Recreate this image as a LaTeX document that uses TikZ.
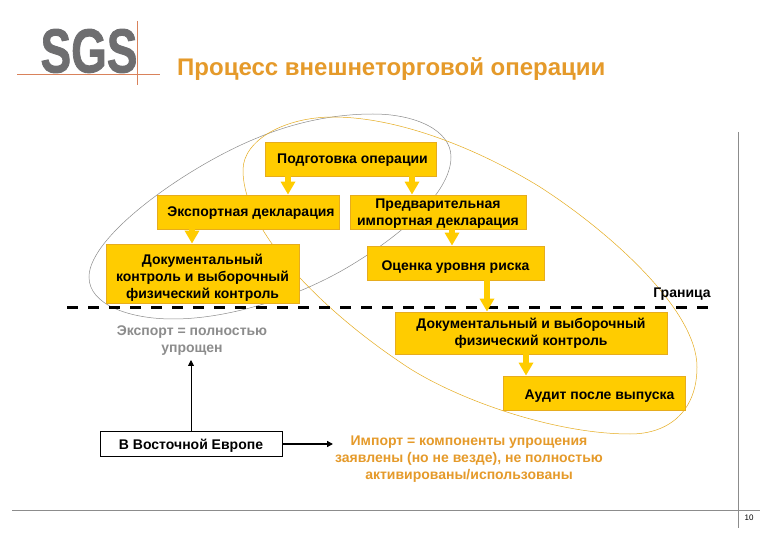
\documentclass[tikz,border=0pt]{standalone}
\usepackage{fontspec}
\setmainfont{Liberation Sans}
\newfontfamily\logofont{Liberation Sans}[UprightFont=* Bold,FakeBold=1.5]
\usetikzlibrary{arrows.meta}
\definecolor{boxgold}{HTML}{FFCC00}
\definecolor{boxedge}{HTML}{E6AC1E}
\definecolor{titlegold}{HTML}{E59A2A}
\definecolor{rulegrey}{HTML}{8C8C8C}
\definecolor{logogrey}{HTML}{6E6E70}
\definecolor{logoline}{HTML}{D9825B}
\newcommand{\FB}{\fontsize{14}{17}\selectfont\bfseries}
\newcommand{\FT}{\fontsize{24}{28}\selectfont\bfseries}

\begin{document}
\begin{tikzpicture}[x=1pt,y=-1pt]
\tikzstyle{goldbox}=[draw=boxedge,fill=boxgold,line width=0.8pt,inner sep=0pt,align=center,font=\FB]
\tikzstyle{plainbox}=[draw=black,fill=white,line width=0.9pt,inner sep=0pt,align=center,font=\FB]
\tikzstyle{texto}=[draw=none,fill=none,align=center,font=\FB]
\tikzstyle{oneline}=[text depth=0pt]
\tikzstyle{blockarrow}=[boxgold,line width=6pt,-{Triangle[width=14pt,length=13pt]}]
\tikzstyle{thinarrow}=[black,-{Triangle[width=6pt,length=6pt]}]
\tikzstyle{loop}=[line width=0.5pt]

\useasboundingbox (0,0) rectangle (780,540);
\fill[white] (0,0) rectangle (780,540);

\node[font=\logofont\fontsize{62}{62}\selectfont,text=logogrey,xscale=0.74,inner sep=0pt] (logo) at (89,51) {SGS};
\draw[logoline,line width=0.9pt] (17,74) -- (160,74);
\draw[logoline,line width=0.9pt] (137,21) -- (137,85);
\node[anchor=west,text=titlegold,font=\FT,inner sep=0pt] (title) at (177,69.5) {Процесс внешнеторговой операции};

\draw[rulegrey,line width=1pt] (738,132) -- (738,528);
\draw[rulegrey,line width=1pt] (12,510) -- (760,510);
\node[font=\fontsize{8}{10}\selectfont,inner sep=0pt] (page) at (749,518) {10};

\draw[loop,rulegrey] (373,114) .. controls (415,114) and (451,130) .. (451,157)
  .. controls (451,195) and (395,240) .. (343,270)
  .. controls (290,300) and (225,319) .. (173,319)
  .. controls (130,319) and (89,305) .. (89,277)
  .. controls (89,235) and (190,165) .. (257,138)
  .. controls (295,122) and (335,114) .. cycle;
\draw[loop,boxedge] (243,170) .. controls (243,140) and (285,117) .. (333,117)
  .. controls (400,117) and (480,150) .. (540,187)
  .. controls (610,232) and (697,310) .. (697,367)
  .. controls (697,410) and (670,434) .. (630,434)
  .. controls (550,434) and (448,396) .. (400,362)
  .. controls (330,315) and (243,235) .. cycle;

\draw[black,line width=3pt,dash pattern=on 11pt off 10pt] (67,308) -- (709,308);

\node[goldbox,oneline,minimum width=171pt,minimum height=34pt] (prep) at (350.5,159) {\hspace*{4pt}Подготовка операции};
\node[goldbox,oneline,minimum width=182pt,minimum height=34pt] (expdecl) at (248,212) {\hspace*{6pt}Экспортная декларация};
\node[goldbox,minimum width=176pt,minimum height=34pt] (impdecl) at (438,212) {\rule{0pt}{13pt}Предварительная\\импортная декларация};
\node[goldbox,minimum width=193pt,minimum height=59pt] (expcheck) at (202.5,273.5) {\rule{0pt}{18pt}Документальный\\контроль и выборочный\\физический контроль};
\node[goldbox,oneline,minimum width=177pt,minimum height=34pt] (risk) at (455.5,263) {\rule{0pt}{15pt}Оценка уровня риска};
\node[goldbox,minimum width=272pt,minimum height=42pt] (impcheck) at (531,333) {Документальный и выборочный\\физический контроль};
\node[goldbox,oneline,minimum width=182pt,minimum height=34pt] (audit) at (594,393) {\rule{0pt}{13pt}\hspace*{11pt}Аудит после выпуска};

\node[plainbox,oneline,minimum width=182pt,minimum height=25pt] (east) at (191,444) {В Восточной Европе};
\node[texto,text=rulegrey] (expnote) at (192,341) {Экспорт = полностью\\упрощен};
\node[texto,text=titlegold] (impnote) at (469,459) {Импорт = компоненты упрощения\\заявлены (но не везде), не полностью\\активированы/использованы};
\node[texto] (border) at (682,294) {Граница};

\coordinate (expend) at (191,360);
\coordinate (impend) at (333,444);

\draw[blockarrow] ([xshift=-62.5pt]prep.south) -- ([xshift=40pt]expdecl.north);
\draw[blockarrow] ([xshift=61.5pt]prep.south) -- ([xshift=-26pt]impdecl.north);
\draw[blockarrow] ([xshift=-56pt]expdecl.south) -- ([xshift=-10.5pt]expcheck.north);
\draw[blockarrow] ([xshift=14pt]impdecl.south) -- ([xshift=-3.5pt]risk.north);
\draw[blockarrow] ([xshift=31.5pt]risk.south) -- ([xshift=-44pt]impcheck.north);
\draw[blockarrow] ([xshift=-5pt]impcheck.south) -- ([xshift=-68pt]audit.north);

\draw[thinarrow,line width=0.9pt] (east.north) -- (expend);
\draw[thinarrow,line width=1.4pt] (east.east) -- (impend);
\end{tikzpicture}
\end{document}
